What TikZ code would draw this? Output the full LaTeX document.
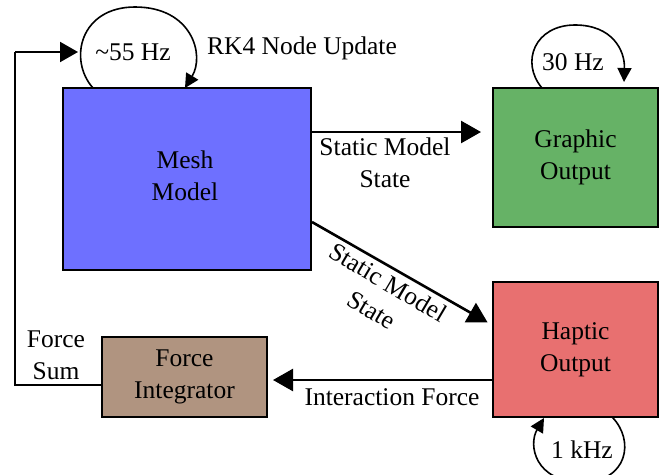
\documentclass[tikz,border=0pt]{standalone}
\usepackage{fontspec}
\setmainfont{Liberation Serif}
\usetikzlibrary{arrows.meta,calc}
\definecolor{meshblue}{RGB}{110,112,255}
\definecolor{graphgreen}{RGB}{102,178,102}
\definecolor{hapred}{RGB}{232,112,112}
\definecolor{forcebrown}{RGB}{176,148,128}
\begin{document}
\begin{tikzpicture}[x=1pt,y=-1pt,
  txt/.style={font=\fontsize{25.5}{32}\selectfont, align=center, inner sep=0pt},
  blk/.style={draw=black, line width=2pt, txt},
  arr/.style={line width=2.6pt, -{Triangle[length=20pt,width=22pt]}},
  loop/.style={line width=1.6pt, -{Triangle[length=14pt,width=14pt]}},
  plain/.style={line width=2pt}]
\useasboundingbox (0,0) rectangle (663,474);
% blocks
\node[blk, fill=meshblue, minimum width=248pt, minimum height=182pt] (mesh) at (187,179) {};
\node[txt] (meshtxt) at (185,176) {Mesh\\Model};
\node[blk, fill=graphgreen, minimum width=165pt, minimum height=139pt] (graph) at (575.5,157.5) {Graphic\\Output};
\node[blk, fill=hapred, minimum width=165pt, minimum height=135pt] (hap) at (575.5,349.5) {Haptic\\Output};
\node[blk, fill=forcebrown, minimum width=165pt, minimum height=80pt] (fi) at (184.5,377) {Force\\Integrator};
% connectors
\coordinate (a1) at ([yshift=47pt]mesh.east);
\draw[arr, shorten >=11pt] (a1) -- (a1 -| graph.west);
\node[txt] (l1) at (385,163) {Static Model\\State};
\draw[arr, shorten >=5pt] ([yshift=-43pt]mesh.east) -- ([yshift=24.5pt]hap.west);
\node[txt, rotate=-30.6] (l2) at (380,296) {Static Model\\State};
\coordinate (a3) at ([yshift=-30.5pt]hap.west);
\draw[arr, shorten >=5pt] (a3) -- (a3 -| fi.east);
\node[txt] (l3) at (392,397) {Interaction Force};
% feedback
\coordinate (fb) at (15,52);
\coordinate (lin) at (78,52);
\draw[plain] ([yshift=-8pt]fi.west) -| (fb);
\draw[arr, line width=2pt, -{Triangle[length=18pt,width=20pt]}] (fb) -- (lin);
\node[txt] (l4) at (56,355) {Force\\Sum};
% loops
\coordinate (m1) at (93,88);
\coordinate (m2) at (185,88);
\draw[loop] (m1) .. controls (68,60) and (80,7) .. (135,7) .. controls (192,7) and (205,55) .. (m2);
\node[txt] (l5) at (133,52) {\textasciitilde55 Hz};
\node[txt] (l6) at (302,48) {RK4 Node Update};
\coordinate (g1) at (542,88);
\coordinate (g2) at (624,82);
\draw[loop] (g1) .. controls (520,62) and (535,25) .. (575,25) .. controls (612,25) and (625,50) .. (g2);
\node[txt] (l7) at (573,62) {30 Hz};
\coordinate (h1) at (612,417);
\coordinate (h2) at (544,418);
\draw[loop] (h1) .. controls (635,440) and (628,482) .. (582,482) .. controls (535,482) and (528,445) .. (h2);
\node[txt] (l8) at (582,450) {1 kHz};
\end{tikzpicture}
\end{document}
